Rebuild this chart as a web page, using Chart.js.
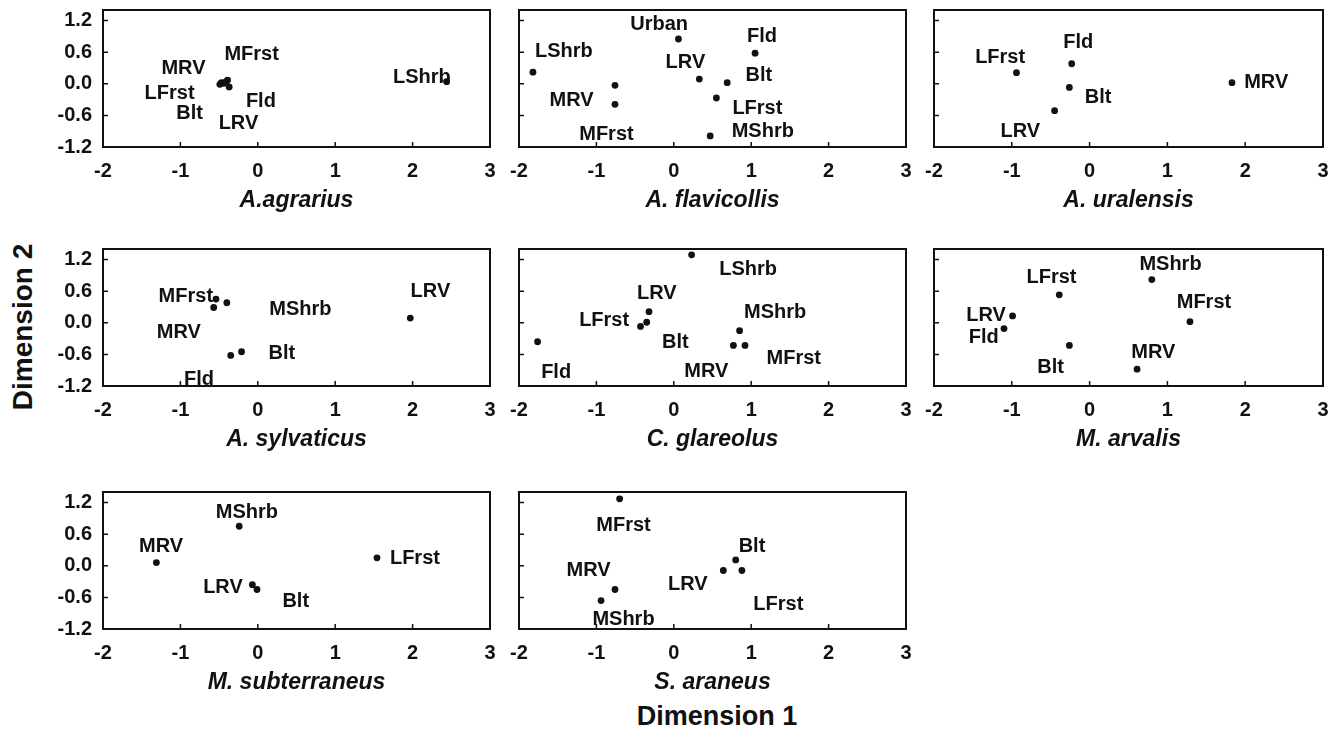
<!DOCTYPE html>
<html><head><meta charset="utf-8">
<script src="https://cdn.jsdelivr.net/npm/chart.js@4.4.1/dist/chart.umd.min.js"></script>
<style>
html,body{margin:0;padding:0;background:#fff;}
#wrap{position:relative;width:1338px;height:732px;overflow:hidden;font-family:"Liberation Sans",Arial,Helvetica,sans-serif;}
canvas{position:absolute;}
.axt{position:absolute;font-weight:bold;font-size:27px;color:#111;white-space:nowrap;transform:translate(-50%,-50%);}
#d2{transform:translate(-50%,-50%) rotate(-90deg);font-size:28px;}
</style></head><body>
<div id="wrap">
<div class="axt" id="d1" style="left:717px;top:716px;">Dimension 1</div>
<div class="axt" id="d2" style="left:23px;top:327px;">Dimension 2</div>
</div>
<script>
// ---- axis ticks ----
const xTicks = [-2, -1, 0, 1, 2, 3];
const yTicks = [-1.2, -0.6, 0, 0.6, 1.2];
const xMin = -2, xMax = 3, yMin = -1.2, yMax = 1.4;

// ---- A.agrarius ----
const agrariusNames  = ['MRV','MFrst','LFrst','Blt','Fld','LRV','LShrb'];
const agrariusX      = [-0.47,-0.39,-0.49,-0.44,-0.37,-0.41,2.44];
const agrariusY      = [0.02,0.07,-0.01,0.01,-0.06,0.04,0.04];
const agrariusLabelX = [-0.96,-0.08,-1.14,-0.88,0.04,-0.25,2.12];
const agrariusLabelY = [0.29,0.56,-0.18,-0.57,-0.33,-0.75,0.12];

// ---- A. flavicollis ----
const flavicollisNames  = ['Urban','Fld','LShrb','LRV','Blt','MRV','MFrst','LFrst','MShrb'];
const flavicollisX      = [0.06,1.05,-1.82,0.33,0.69,-0.76,-0.76,0.55,0.47];
const flavicollisY      = [0.85,0.58,0.22,0.09,0.02,-0.03,-0.39,-0.27,-0.99];
const flavicollisLabelX = [-0.19,1.14,-1.42,0.15,1.10,-1.32,-0.87,1.08,1.15];
const flavicollisLabelY = [1.13,0.89,0.61,0.40,0.15,-0.31,-0.97,-0.47,-0.91];

// ---- A. uralensis ----
const uralensisNames  = ['LFrst','Fld','Blt','LRV','MRV'];
const uralensisX      = [-0.94,-0.23,-0.26,-0.45,1.83];
const uralensisY      = [0.21,0.38,-0.07,-0.51,0.02];
const uralensisLabelX = [-1.15,-0.145,0.11,-0.89,2.27];
const uralensisLabelY = [0.50,0.78,-0.26,-0.91,0.02];

// ---- A. sylvaticus ----
const sylvaticusNames  = ['MFrst','MShrb','MRV','Fld','Blt','LRV'];
const sylvaticusX      = [-0.54,-0.40,-0.57,-0.35,-0.21,1.97];
const sylvaticusY      = [0.45,0.38,0.29,-0.62,-0.55,0.09];
const sylvaticusLabelX = [-0.93,0.55,-1.02,-0.76,0.31,2.23];
const sylvaticusLabelY = [0.50,0.26,-0.19,-1.07,-0.59,0.60];

// ---- C. glareolus ----
const glareolusNames  = ['LShrb','LRV','Blt','LFrst','Fld','MShrb','MRV','MFrst'];
const glareolusX      = [0.23,-0.32,-0.35,-0.43,-1.76,0.85,0.77,0.92];
const glareolusY      = [1.29,0.21,0.01,-0.07,-0.36,-0.15,-0.43,-0.43];
const glareolusLabelX = [0.96,-0.22,0.02,-0.90,-1.52,1.31,0.42,1.55];
const glareolusLabelY = [1.01,0.55,-0.37,0.05,-0.95,0.19,-0.92,-0.67];

// ---- M. arvalis ----
const arvalisNames  = ['MShrb','LFrst','LRV','Fld','MFrst','Blt','MRV'];
const arvalisX      = [0.80,-0.39,-0.99,-1.10,1.29,-0.26,0.61];
const arvalisY      = [0.82,0.53,0.13,-0.11,0.02,-0.43,-0.88];
const arvalisLabelX = [1.04,-0.49,-1.33,-1.36,1.47,-0.50,0.82];
const arvalisLabelY = [1.10,0.85,0.13,-0.27,0.39,-0.84,-0.56];

// ---- M. subterraneus ----
const subterraneusNames  = ['MShrb','MRV','LFrst','LRV','Blt'];
const subterraneusX      = [-0.24,-1.31,1.54,-0.07,-0.01];
const subterraneusY      = [0.75,0.06,0.15,-0.36,-0.45];
const subterraneusLabelX = [-0.14,-1.25,2.03,-0.45,0.49];
const subterraneusLabelY = [1.01,0.36,0.13,-0.41,-0.68];

// ---- S. araneus ----
const araneusNames  = ['MFrst','Blt','LRV','LFrst','MRV','MShrb'];
const araneusX      = [-0.70,0.80,0.64,0.88,-0.76,-0.94];
const araneusY      = [1.27,0.11,-0.09,-0.09,-0.45,-0.66];
const araneusLabelX = [-0.65,1.01,0.18,1.35,-1.10,-0.65];
const araneusLabelY = [0.76,0.37,-0.36,-0.74,-0.09,-1.02];

const panels = [
  {title:'A.agrarius',      names:agrariusNames, x:agrariusX, y:agrariusY, lx:agrariusLabelX, ly:agrariusLabelY},
  {title:'A. flavicollis',  names:flavicollisNames, x:flavicollisX, y:flavicollisY, lx:flavicollisLabelX, ly:flavicollisLabelY},
  {title:'A. uralensis',    names:uralensisNames, x:uralensisX, y:uralensisY, lx:uralensisLabelX, ly:uralensisLabelY},
  {title:'A. sylvaticus',   names:sylvaticusNames, x:sylvaticusX, y:sylvaticusY, lx:sylvaticusLabelX, ly:sylvaticusLabelY},
  {title:'C. glareolus',    names:glareolusNames, x:glareolusX, y:glareolusY, lx:glareolusLabelX, ly:glareolusLabelY},
  {title:'M. arvalis',      names:arvalisNames, x:arvalisX, y:arvalisY, lx:arvalisLabelX, ly:arvalisLabelY},
  {title:'M. subterraneus', names:subterraneusNames, x:subterraneusX, y:subterraneusY, lx:subterraneusLabelX, ly:subterraneusLabelY},
  {title:'S. araneus',      names:araneusNames, x:araneusX, y:araneusY, lx:araneusLabelX, ly:araneusLabelY}
];

// ---- layout ----
const colLeft = [103, 519, 934];
const colW = [387, 387, 389];
const rowTop = [10, 249, 492];
const frameH = 137;
const FAMILY = "'Liberation Sans', Arial, Helvetica, sans-serif";
const INK = '#111';

const framePlugin = {
  id: 'frame',
  beforeDatasetsDraw(chart) {
    const {ctx, chartArea: a, scales: {x, y}} = chart;
    ctx.save();
    ctx.strokeStyle = INK;
    ctx.lineWidth = 2;
    ctx.strokeRect(a.left, a.top, a.right - a.left, a.bottom - a.top);
    ctx.lineWidth = 1.5;
    ctx.beginPath();
    xTicks.forEach(v => {
      if (v > xMin && v < xMax) { const px = x.getPixelForValue(v); ctx.moveTo(px, a.bottom); ctx.lineTo(px, a.bottom - 5); }
    });
    yTicks.forEach(v => {
      if (v > yMin && v < yMax) { const py = y.getPixelForValue(v); ctx.moveTo(a.left, py); ctx.lineTo(a.left + 5, py); }
    });
    ctx.stroke();
    ctx.restore();
  }
};

const labelPlugin = {
  id: 'ptlabels',
  afterDatasetsDraw(chart) {
    const p = chart.config.options.panel;
    const {ctx, scales: {x, y}} = chart;
    ctx.save();
    ctx.fillStyle = INK;
    ctx.font = "bold 20px " + FAMILY;
    ctx.textAlign = 'center';
    ctx.textBaseline = 'middle';
    p.names.forEach((n, i) => {
      ctx.fillText(n, x.getPixelForValue(p.lx[i]), y.getPixelForValue(p.ly[i]));
    });
    ctx.restore();
  }
};

const wrap = document.getElementById('wrap');
panels.forEach((p, idx) => {
  const col = idx % 3, row = Math.floor(idx / 3);
  const yW = col === 0 ? 70 : 20;
  const padTop = 24, padRight = 16, xH = 70;
  const w = yW + colW[col] + padRight, h = padTop + frameH + xH;
  const c = document.createElement('canvas');
  c.width = w; c.height = h;
  c.style.width = w + 'px'; c.style.height = h + 'px';
  c.style.left = (colLeft[col] - yW) + 'px';
  c.style.top = (rowTop[row] - padTop) + 'px';
  wrap.appendChild(c);
  new Chart(c, {
    type: 'scatter',
    data: {datasets: [{
      data: p.x.map((v, i) => ({x: v, y: p.y[i]})),
      pointRadius: 3.4, pointHoverRadius: 3.4,
      backgroundColor: INK, borderWidth: 0, clip: false
    }]},
    options: {
      panel: p,
      responsive: false, animation: false, devicePixelRatio: 1,
      events: [],
      layout: {padding: {top: padTop, right: padRight, left: 0, bottom: 0}},
      plugins: {legend: {display: false}, tooltip: {enabled: false}},
      scales: {
        x: {
          type: 'linear', min: xMin, max: xMax,
          afterBuildTicks: s => { s.ticks = xTicks.map(v => ({value: v})); },
          afterFit: s => { s.height = xH; s.paddingLeft = 0; s.paddingRight = 0; },
          grid: {display: false, drawTicks: false},
          border: {display: false},
          ticks: {padding: 12, autoSkip: false, maxRotation: 0, color: INK,
                  font: {family: FAMILY, size: 20, weight: 'bold'},
                  callback: v => String(v)},
          title: {display: true, text: p.title, color: INK,
                  font: {family: FAMILY, size: 23, weight: 'bold', style: 'italic'},
                  padding: {top: 0, bottom: 3}}
        },
        y: {
          type: 'linear', min: yMin, max: yMax,
          afterBuildTicks: s => { s.ticks = yTicks.map(v => ({value: v})); },
          afterFit: s => { s.width = yW; s.paddingTop = 0; s.paddingBottom = 0; },
          grid: {display: false, drawTicks: false},
          border: {display: false},
          ticks: {display: col === 0, padding: 11, color: INK,
                  font: {family: FAMILY, size: 20, weight: 'bold'},
                  callback: v => Number(v).toFixed(1)}
        }
      }
    },
    plugins: [framePlugin, labelPlugin]
  });
});
</script>
</body></html>
